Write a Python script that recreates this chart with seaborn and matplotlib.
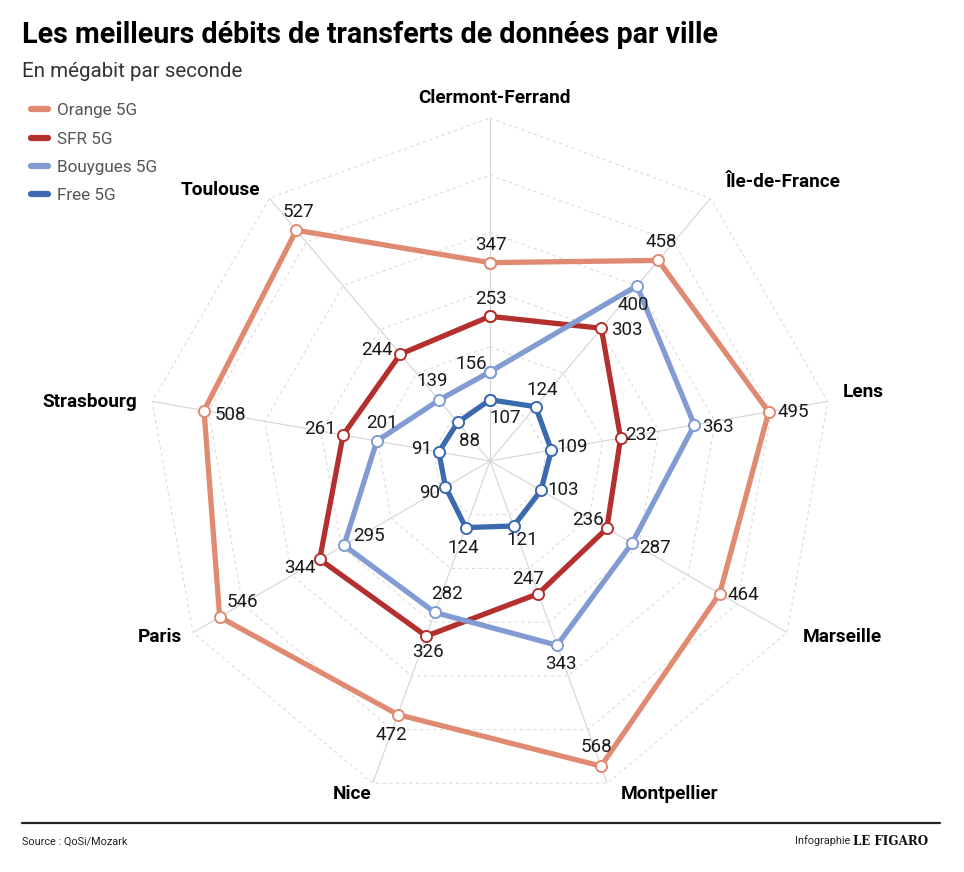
import numpy as np
import pandas as pd
import matplotlib.pyplot as plt
import seaborn as sns
from matplotlib.lines import Line2D

# Données : débits 5G par ville (Mbit/s)
villes = ['Clermont-Ferrand', 'Île-de-France', 'Lens', 'Marseille', 'Montpellier',
          'Nice', 'Paris', 'Strasbourg', 'Toulouse']
orange = [347, 458, 495, 464, 568, 472, 546, 508, 527]
sfr = [253, 303, 232, 236, 247, 326, 344, 261, 244]
bouygues = [156, 400, 363, 287, 343, 282, 295, 201, 139]
free = [107, 124, 109, 103, 121, 124, 90, 91, 88]
operateurs = ['Orange 5G', 'SFR 5G', 'Bouygues 5G', 'Free 5G']

couleurs = ['#e08a72', '#b4302f', '#829bd3', '#3c6aae']

# décalage des étiquettes de valeurs (pixels, y vers le haut)
decalages = {
    'Orange 5G': [(1, 18), (3, 18), (25, 0), (24, -1), (-5, 19), (-6, -20), (23, 15), (26, -4), (2, 18)],
    'SFR 5G': [(1, 17), (26, -2), (20, 3), (-19, 8), (-10, 15), (2, -16), (-20, -9), (-23, 6), (-23, 4)],
    'Bouygues 5G': [(-19, 8), (-4, -19), (24, -2), (23, -5), (4, -19), (12, 18), (25, 9), (5, 18), (-7, 19)],
    'Free 5G': [(15, -18), (7, 17), (21, 3), (22, 0), (9, -14), (-3, -20), (-16, -6), (-17, 3), (12, -19)],
}
# position des noms de villes (pixels depuis le bout du rayon)
pos_villes = [(4, 20, 'center'), (15, 16, 'left'), (15, 9, 'left'), (16, -5, 'left'),
              (13, -11, 'left'), (-1, -11, 'right'), (-11, -5, 'right'),
              (-15, -1, 'right'), (-9, 8, 'right')]

sns.set_style('white')
plt.rcParams['font.family'] = ['Roboto', 'DejaVu Sans']

n = len(villes)
angles = np.deg2rad(np.arange(n) * 360 / n)
rmax = 600

df = pd.DataFrame({'ville': villes * 4,
                   'theta': list(angles) * 4,
                   'valeur': orange + sfr + bouygues + free,
                   'operateur': [op for op in operateurs for _ in villes]})

fig = plt.figure(figsize=(9.64, 8.72), dpi=100)
ax = fig.add_axes([0.1525, 0.078, 0.7116, 0.7867], projection='polar')
ax.set_theta_zero_location('N')
ax.set_theta_direction(-1)
ax.set_ylim(0, rmax)
ax.grid(False)
ax.spines['polar'].set_visible(False)
ax.set_xticks([])
ax.set_yticks([])
ax.set_facecolor('white')

# grille : rayons + anneaux pointillés
for a in angles:
    ax.plot([a, a], [0, rmax], color='#d4d4d4', lw=0.8, zorder=0)
anneau_theta = np.append(angles, angles[0])
for r in range(100, rmax + 1, 100):
    ax.plot(anneau_theta, [r] * (n + 1), color='#dcdcdc', lw=0.8,
            ls=(0, (3, 3)), zorder=0)

for op, c in zip(operateurs, couleurs):
    d = df[df['operateur'] == op]
    d = pd.concat([d, d.iloc[[0]].assign(theta=2 * np.pi)])
    sns.lineplot(data=d, x='theta', y='valeur', sort=False, ax=ax, color=c,
                 lw=3.8, marker='o', markersize=8, markerfacecolor='white',
                 markeredgecolor=c, markeredgewidth=1.4, legend=False, zorder=3)
    for (_, row), (dx, dy) in zip(df[df['operateur'] == op].iterrows(), decalages[op]):
        ax.annotate(str(row['valeur']), (row['theta'], row['valeur']),
                    xytext=(dx, dy), textcoords='offset pixels', ha='center',
                    va='center', fontsize=13.5, fontweight='normal', color='#1a1a1a',
                    zorder=5)

ax.set_xlabel('')
ax.set_ylabel('')

for a, v, (dx, dy, ha) in zip(angles, villes, pos_villes):
    ax.annotate(v, (a, rmax), xytext=(dx, dy), textcoords='offset pixels',
                ha=ha, va='center', fontsize=13.7, fontweight='bold', color='black',
                annotation_clip=False)

# titres
fig.text(22 / 964, 1 - 43 / 872, 'Les meilleurs débits de transferts de données par ville',
         fontsize=20.6, fontweight='bold', color='black', va='baseline')
fig.text(22 / 964, 1 - 77 / 872, 'En mégabit par seconde', fontsize=14.8,
         color='#333333', va='baseline')

# légende
poignees = [Line2D([], [], color=c, lw=4.5) for c in couleurs]
leg = fig.legend(poignees, operateurs, loc='upper left',
                 bbox_to_anchor=(16 / 964, 1 - 88 / 872), frameon=False,
                 fontsize=12.3, handlelength=0.95, handletextpad=0.55,
                 labelspacing=0.78, labelcolor='#555555')

# pied de page
fig.add_artist(Line2D([22 / 964, 940 / 964], [1 - 823 / 872] * 2,
                      color='#222222', lw=1.6))
fig.text(22 / 964, 1 - 842 / 872, 'Source : QoSi/Mozark', fontsize=7.8,
         color='#222222', va='center')
fig.text(850 / 964, 1 - 841 / 872, 'Infographie', fontsize=7.8, color='#222222',
         va='center', ha='right')
fig.text(853 / 964, 1 - 841 / 872, 'LE FIGARO', fontsize=8.6, fontweight='bold',
         family='DejaVu Serif', color='#111111', va='center', ha='left')

fig.savefig('out.png', dpi=100, facecolor='white')
